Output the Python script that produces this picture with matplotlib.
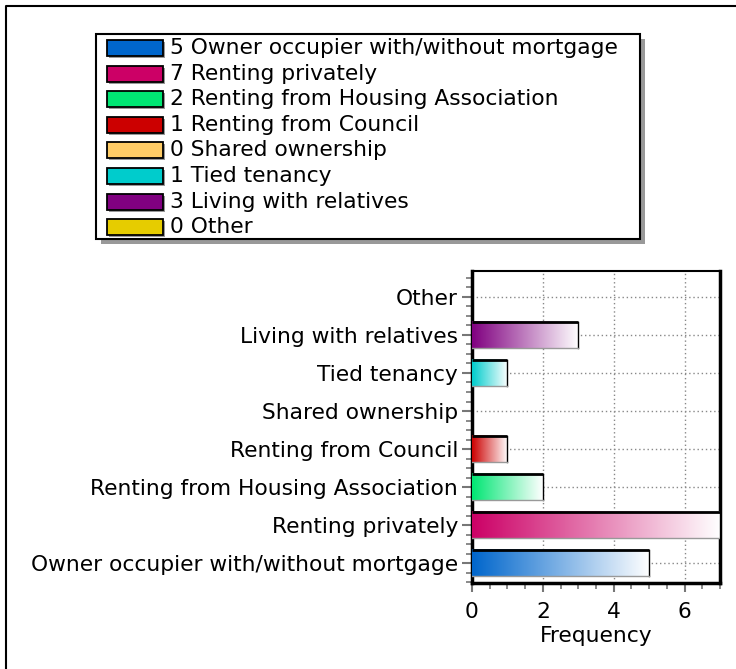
import matplotlib
matplotlib.use('Agg')
import matplotlib.pyplot as plt
import numpy as np
from matplotlib.colors import LinearSegmentedColormap, to_rgb
from matplotlib.patches import Rectangle

# data
categories = ['Owner occupier with/without mortgage', 'Renting privately',
              'Renting from Housing Association', 'Renting from Council',
              'Shared ownership', 'Tied tenancy', 'Living with relatives', 'Other']
counts = [5, 7, 2, 1, 0, 1, 3, 0]
colors = ['#0066CC', '#CC0066', '#00E673', '#CC0000',
          '#FFCC66', '#00CCCC', '#800080', '#E6CC00']
x_ticks = [0, 2, 4, 6]

FS = 15.7
plt.rcParams['font.family'] = 'DejaVu Sans'
fig = plt.figure(figsize=(7.36, 6.69), dpi=100)

# background overlay in pixel coords (frame + legend)
bg = fig.add_axes([0, 0, 1, 1])
bg.set_xlim(0, 736)
bg.set_ylim(669, 0)
bg.axis('off')
bg.plot([6, 6, 736], [669, 6, 6], color='black', lw=1.5)

# legend box with shadow
lx0, ly0, lx1, ly1 = 96, 34, 640, 239
bg.add_patch(Rectangle((lx0 + 5, ly0 + 5), lx1 - lx0, ly1 - ly0, facecolor='#999999', edgecolor='none'))
bg.add_patch(Rectangle((lx0, ly0), lx1 - lx0, ly1 - ly0, facecolor='white', edgecolor='black', lw=1.5))
row_h = 25.6
for i, (cat, n, c) in enumerate(zip(categories, counts, colors)):
    yc = 48 + i * row_h
    bg.add_patch(Rectangle((109, yc - 6), 56, 16, facecolor='#999999', edgecolor='none'))
    bg.add_patch(Rectangle((107, yc - 8), 56, 16, facecolor=c, edgecolor='black', lw=1.3))
    bg.text(170, yc, f'{n} {cat}', fontsize=FS, va='center', ha='left')

# main axes
ax = fig.add_axes([472 / 736, 86 / 669, 248 / 736, 312 / 669])
ypos = np.arange(len(categories))
bar_h = 0.7

grad = np.linspace(0, 1, 256).reshape(1, -1)
for y, v, c in zip(ypos, counts, colors):
    if v <= 0:
        continue
    cmap = LinearSegmentedColormap.from_list('g', [to_rgb(c), (1, 1, 1)])
    ax.imshow(grad, cmap=cmap, aspect='auto', extent=[0, v, y - bar_h / 2, y + bar_h / 2],
              zorder=3, interpolation='bilinear')
    ax.plot([0, v], [y + bar_h / 2] * 2, color='black', lw=2, zorder=4, solid_capstyle='butt')
    ax.plot([v, v], [y - bar_h / 2, y + bar_h / 2], color='black', lw=1, zorder=4)
    ax.plot([0, v], [y - bar_h / 2] * 2, color='#999999', lw=1, zorder=4)

ax.set_xlim(0, 7)
ax.set_ylim(-0.526, 7.684)

ax.set_yticks(ypos)
ax.set_yticklabels(categories, fontsize=FS)
ax.set_yticks(np.arange(-0.5, 7.6, 0.25), minor=True)
ax.set_xticks(x_ticks)
ax.set_xticklabels([str(t) for t in x_ticks], fontsize=FS)
ax.set_xticks(np.arange(0, 7.01, 0.5), minor=True)
ax.set_xlabel('Frequency', fontsize=FS, labelpad=3)

ax.tick_params(which='major', length=7, width=1.5, color='#777777', pad=3)
ax.tick_params(axis='x', which='major', length=6.5, pad=7)
ax.tick_params(which='minor', length=4, width=1.2, color='#777777')

ax.grid(True, which='major', linestyle=(0, (1, 2)), color='#888888', lw=1, zorder=1)
ax.set_axisbelow(True)

for side in ['left', 'bottom', 'right']:
    ax.spines[side].set_linewidth(2.5)
ax.spines['top'].set_linewidth(1.5)

fig.savefig('out.png', dpi=100)
